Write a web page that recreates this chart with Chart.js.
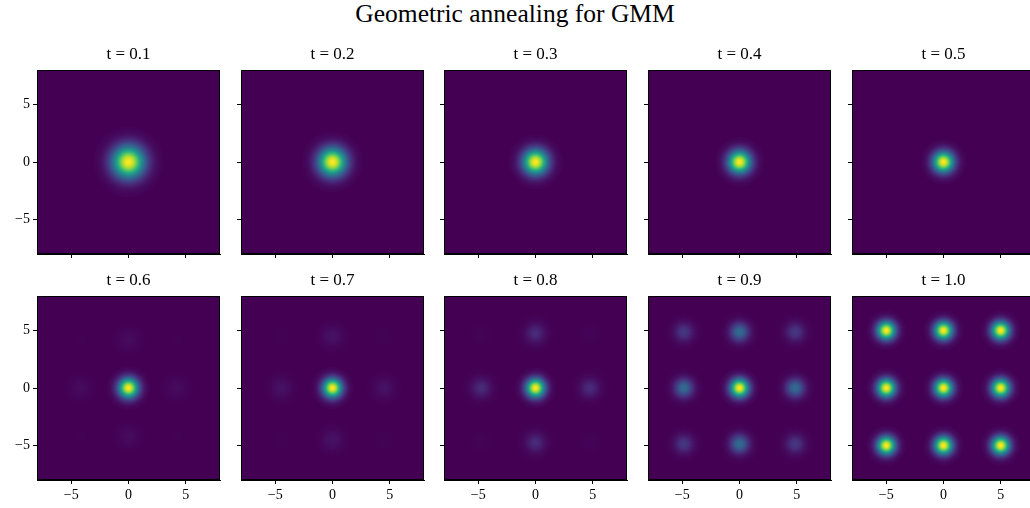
<!DOCTYPE html>
<html>
<head>
<meta charset="utf-8">
<script src="https://cdn.jsdelivr.net/npm/chart.js@4.4.0/dist/chart.umd.min.js"></script>
<style>
  html, body { margin: 0; padding: 0; background: #fff; }
  body { width: 1030px; height: 508px; position: relative; overflow: hidden; font-family: 'Liberation Serif', serif; }
  #fig-title { position: absolute; left: 0; top: 1px; width: 1030px; text-align: center; font-size: 25.5px; line-height: 25px; color: #000; }
  canvas { position: absolute; }
</style>
</head>
<body>
<div id="fig-title">Geometric annealing for GMM</div>
<div id="panels"></div>
<script>
// ===========================
// DATA
// ===========================
const panelTitles = ['t = 0.1', 't = 0.2', 't = 0.3', 't = 0.4', 't = 0.5',
                     't = 0.6', 't = 0.7', 't = 0.8', 't = 0.9', 't = 1.0'];
// distance of the outer modes from the centre, per panel
const modeOffset  = [0, 0, 0, 0, 0, 4.2, 4.5, 4.75, 4.87, 5.0];
// peak density (fraction of colour scale) of each kind of mode
const centerPeak  = [1, 1, 1, 1, 1, 1, 1, 1, 1, 1];
const sidePeak    = [0, 0, 0, 0, 0, 0.03, 0.05, 0.12, 0.35, 1.0];
const cornerPeak  = [0, 0, 0, 0, 0, 0.002, 0.003, 0.006, 0.16, 1.0];
// blob spread (std dev in axis units)
const blobSigma   = [0.96, 0.84, 0.75, 0.68, 0.63, 0.6, 0.58, 0.57, 0.56, 0.55];
const tickValues  = [-5, 0, 5];
const axisMin = -8, axisMax = 8;

// ===========================
// LAYOUT / STYLE
// ===========================
const PANEL_LEFT = [37, 241, 444, 648, 852];
const PANEL_TOP  = [70, 296];
const PANEL_W = 183, PANEL_H = 184;
const AXIS_W = 37, TITLE_H = 25, AXIS_H = 28, PAD_R = 5;
const FONT = "'Liberation Serif', 'Times New Roman', serif";
const BG = '#440154';

const VIRIDIS = ['#440154', '#482878', '#3e4a89', '#31688e', '#26828e',
                 '#1f9e89', '#35b779', '#6dcd59', '#b4de2c', '#fde725'];
const VIRIDIS_RGB = VIRIDIS.map(h => [1, 3, 5].map(i => parseInt(h.substr(i, 2), 16)));

function viridis(v) {
  v = Math.max(0, Math.min(1, v));
  const p = v * (VIRIDIS_RGB.length - 1);
  const i = Math.min(Math.floor(p), VIRIDIS_RGB.length - 2);
  const f = p - i;
  const a = VIRIDIS_RGB[i], b = VIRIDIS_RGB[i + 1];
  const c = a.map((x, k) => Math.round(x + (b[k] - x) * f));
  return `rgb(${c[0]},${c[1]},${c[2]})`;
}

function formatTick(v) {
  return String(v).replace('-', '\u2212');
}

/**
 * Build the list of modes for one panel
 */
function panelPoints(i) {
  const d = modeOffset[i];
  const pts = [{ x: 0, y: 0, v: centerPeak[i] }];
  if (sidePeak[i] > 0) {
    [[d, 0], [-d, 0], [0, d], [0, -d]].forEach(([x, y]) => pts.push({ x, y, v: sidePeak[i] }));
  }
  if (cornerPeak[i] > 0) {
    [[d, d], [-d, d], [d, -d], [-d, -d]].forEach(([x, y]) => pts.push({ x, y, v: cornerPeak[i] }));
  }
  return pts;
}

// draws the density image: background + one radial gradient per mode
const densityPlugin = {
  id: 'density',
  beforeDatasetsDraw(chart) {
    const { ctx, chartArea: a, scales } = chart;
    ctx.save();
    ctx.beginPath();
    ctx.rect(a.left, a.top, a.width, a.height);
    ctx.clip();
    ctx.fillStyle = BG;
    ctx.fillRect(a.left, a.top, a.width, a.height);
    const ds = chart.data.datasets[0];
    const meta = chart.getDatasetMeta(0);
    const sig = Math.abs(scales.x.getPixelForValue(ds.sigma) - scales.x.getPixelForValue(0));
    meta.data.forEach((el, k) => {
      const peak = ds.data[k].v;
      const R = 3.2 * sig;
      const g = ctx.createRadialGradient(el.x, el.y, 0, el.x, el.y, R);
      const N = 32;
      for (let s = 0; s <= N; s++) {
        const r = 3.2 * s / N;
        g.addColorStop(s / N, viridis(peak * Math.exp(-r * r / 2)));
      }
      ctx.fillStyle = g;
      ctx.beginPath();
      ctx.arc(el.x, el.y, R, 0, Math.PI * 2);
      ctx.fill();
    });
    ctx.restore();
  },
  afterDraw(chart) {
    const { ctx, chartArea: a } = chart;
    ctx.save();
    ctx.strokeStyle = '#000';
    ctx.lineWidth = 1;
    ctx.strokeRect(Math.round(a.left) + 0.5, Math.round(a.top) + 0.5,
                   Math.round(a.width) - 1, Math.round(a.height) - 1);
    ctx.restore();
  }
};

function axisOptions(showLabels, isX) {
  return {
    type: 'linear',
    min: axisMin,
    max: axisMax,
    afterBuildTicks: scale => { scale.ticks = tickValues.map(v => ({ value: v })); },
    afterFit: scale => {
      if (isX) scale.height = AXIS_H; else scale.width = AXIS_W;
    },
    grid: { display: true, drawOnChartArea: false, drawTicks: true, tickLength: 4, color: '#000', lineWidth: 1 },
    border: { display: true, color: '#000', width: 1 },
    ticks: {
      display: showLabels,
      autoSkip: false,
      maxRotation: 0,
      padding: 3,
      color: '#000',
      font: { family: FONT, size: 14 },
      callback: v => formatTick(v)
    }
  };
}

function buildPanel(i) {
  const row = Math.floor(i / 5), col = i % 5;
  const canvas = document.createElement('canvas');
  const w = AXIS_W + PANEL_W + PAD_R;
  const h = TITLE_H + PANEL_H + AXIS_H;
  canvas.width = w;
  canvas.height = h;
  canvas.style.width = w + 'px';
  canvas.style.height = h + 'px';
  canvas.style.left = (PANEL_LEFT[col] - AXIS_W) + 'px';
  canvas.style.top = (PANEL_TOP[row] - TITLE_H) + 'px';
  document.getElementById('panels').appendChild(canvas);

  new Chart(canvas, {
    type: 'scatter',
    data: {
      datasets: [{
        data: panelPoints(i),
        sigma: blobSigma[i],
        pointRadius: 0,
        pointHoverRadius: 0
      }]
    },
    options: {
      responsive: false,
      animation: false,
      devicePixelRatio: 1,
      events: [],
      layout: { padding: { left: 0, right: PAD_R, top: 0, bottom: 0 } },
      plugins: {
        legend: { display: false },
        tooltip: { enabled: false },
        title: {
          display: true,
          fullSize: false,
          text: panelTitles[i],
          color: '#000',
          font: { family: FONT, size: 17, weight: 'normal', lineHeight: '20px' },
          padding: { top: 0, bottom: 5 }
        }
      },
      scales: {
        x: axisOptions(row === 1, true),
        y: axisOptions(col === 0, false)
      }
    },
    plugins: [densityPlugin]
  });
}

for (let i = 0; i < panelTitles.length; i++) buildPanel(i);
</script>
</body>
</html>
